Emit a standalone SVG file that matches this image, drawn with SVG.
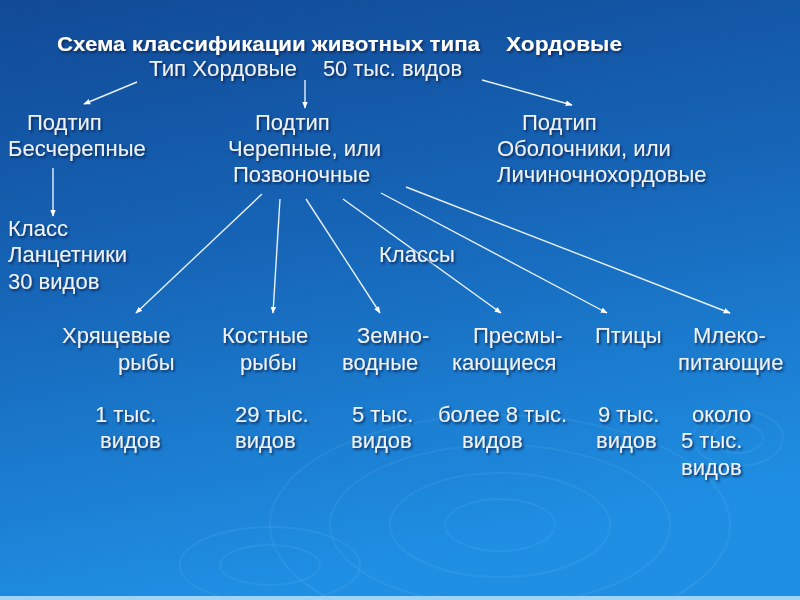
<svg xmlns="http://www.w3.org/2000/svg" width="800" height="600" viewBox="0 0 800 600">
<defs>
<linearGradient id="bg" x1="0" y1="0" x2="0.25" y2="1">
<stop offset="0" stop-color="#114a96"/>
<stop offset="0.45" stop-color="#1664b6"/>
<stop offset="1" stop-color="#1f8fe3"/>
</linearGradient>
<filter id="sh" x="-10%" y="-30%" width="120%" height="160%">
<feDropShadow dx="1.5" dy="1.8" stdDeviation="0.9" flood-color="#082448" flood-opacity="0.85"/>
</filter>
<marker id="ah" viewBox="0 0 10 10" refX="9" refY="5" markerWidth="7" markerHeight="7" orient="auto" markerUnits="userSpaceOnUse">
<path d="M0,1 L10,5 L0,9 Z" fill="#ffffff"/>
</marker>
<style>
text{font-family:"Liberation Sans",Arial,sans-serif;font-size:22px;fill:#eef2f8}
.t{font-weight:bold;font-size:21px;fill:#ffffff}
.lbl{filter:url(#sh)}
.c line{stroke:#e8f0fa;stroke-width:1.4;marker-end:url(#ah)}
.rip{fill:none;stroke:#7cc8f7;stroke-opacity:0.12;stroke-width:2}
</style>
</defs>
<rect width="800" height="600" fill="url(#bg)"/>
<rect y="596" width="800" height="4" fill="#bfe6fb" opacity="0.8"/>
<g id="ripples">
<ellipse class="rip" cx="500" cy="525" rx="230" ry="110"/>
<ellipse class="rip" cx="500" cy="525" rx="170" ry="80"/>
<ellipse class="rip" cx="500" cy="525" rx="110" ry="52"/>
<ellipse class="rip" cx="500" cy="525" rx="55" ry="26"/>
<ellipse class="rip" cx="738" cy="438" rx="45" ry="28"/>
<ellipse class="rip" cx="738" cy="438" rx="25" ry="15"/>
<ellipse class="rip" cx="270" cy="565" rx="90" ry="38"/>
<ellipse class="rip" cx="270" cy="565" rx="50" ry="20"/>
</g>
<g id="connectors" class="c">
<line x1="137" y1="82" x2="84" y2="104"/>
<line x1="305" y1="80" x2="305" y2="108"/>
<line x1="482" y1="80" x2="572" y2="105"/>
<line x1="53" y1="168" x2="53" y2="216"/>
<line x1="262" y1="194" x2="136" y2="313"/>
<line x1="280" y1="199" x2="273" y2="313"/>
<line x1="306" y1="199" x2="380" y2="313"/>
<line x1="343" y1="199" x2="501" y2="313"/>
<line x1="381" y1="193" x2="607" y2="313"/>
<line x1="406" y1="187" x2="730" y2="313"/>
</g>
<g class="lbl">
<g id="title">
<text class="t" x="57" y="51" textLength="423" lengthAdjust="spacingAndGlyphs">Схема классификации животных типа</text>
<text class="t" x="506" y="51" textLength="116" lengthAdjust="spacingAndGlyphs">Хордовые</text>
</g>
<g id="root">
<text x="149" y="76" textLength="148" lengthAdjust="spacingAndGlyphs">Тип Хордовые</text>
<text x="323" y="76" textLength="139" lengthAdjust="spacingAndGlyphs">50 тыс. видов</text>
</g>
<g id="acrania">
<text x="27" y="130">Подтип</text>
<text x="8" y="156">Бесчерепные</text>
</g>
<g id="vertebrata">
<text x="255" y="130">Подтип</text>
<text x="228" y="156">Черепные, или</text>
<text x="233" y="182">Позвоночные</text>
</g>
<g id="tunicata">
<text x="522" y="130">Подтип</text>
<text x="497" y="156">Оболочники, или</text>
<text x="497" y="182">Личиночнохордовые</text>
</g>
<g id="lancelets">
<text x="8" y="236">Класс</text>
<text x="8" y="262">Ланцетники</text>
<text x="8" y="289">30 видов</text>
</g>
<g id="classes">
<text x="379" y="262">Классы</text>
</g>
<g id="chondrichthyes">
<text x="62" y="343">Хрящевые</text>
<text x="118" y="370">рыбы</text>
<text x="95" y="422">1 тыс.</text>
<text x="100" y="448">видов</text>
</g>
<g id="osteichthyes">
<text x="222" y="343">Костные</text>
<text x="240" y="370">рыбы</text>
<text x="235" y="422">29 тыс.</text>
<text x="235" y="448">видов</text>
</g>
<g id="amphibia">
<text x="357" y="343">Земно-</text>
<text x="342" y="370">водные</text>
<text x="352" y="422">5 тыс.</text>
<text x="351" y="448">видов</text>
</g>
<g id="reptilia">
<text x="473" y="343">Пресмы-</text>
<text x="452" y="370">кающиеся</text>
<text x="438" y="422">более 8 тыс.</text>
<text x="462" y="448">видов</text>
</g>
<g id="aves">
<text x="595" y="343">Птицы</text>
<text x="598" y="422">9 тыс.</text>
<text x="596" y="448">видов</text>
</g>
<g id="mammalia">
<text x="693" y="343">Млеко-</text>
<text x="678" y="370">питающие</text>
<text x="692" y="422">около</text>
<text x="681" y="448">5 тыс.</text>
<text x="681" y="475">видов</text>
</g>
</g>
</svg>
